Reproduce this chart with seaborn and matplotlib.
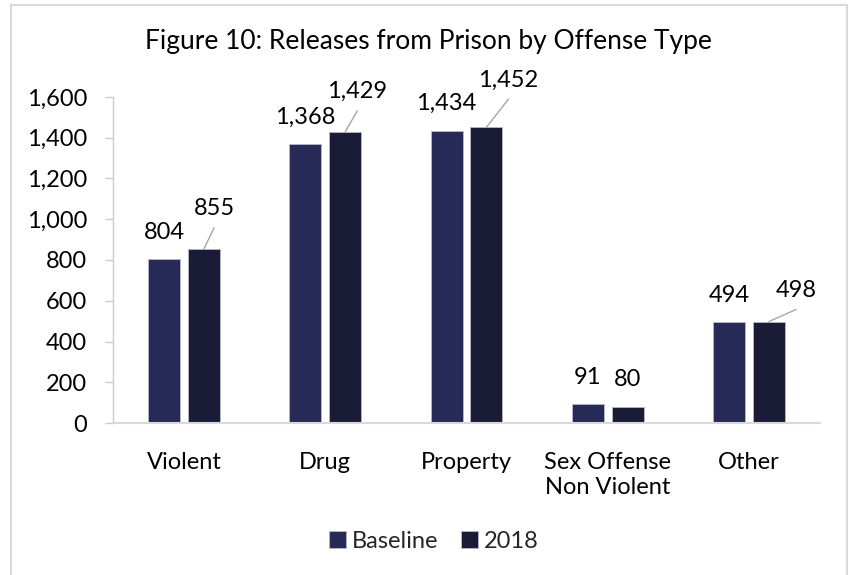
import matplotlib
matplotlib.use("Agg")
import matplotlib.pyplot as plt
import seaborn as sns
import pandas as pd
from matplotlib.patches import Rectangle

categories = ["Violent", "Drug", "Property", "Sex Offense\nNon Violent", "Other"]
baseline = [804, 1368, 1434, 91, 494]
y2018 = [855, 1429, 1452, 80, 498]
series = ["Baseline", "2018"]
yticks = [0, 200, 400, 600, 800, 1000, 1200, 1400, 1600]

df = pd.DataFrame({
    "category": categories * 2,
    "value": baseline + y2018,
    "series": [series[0]] * len(categories) + [series[1]] * len(categories),
})

sns.set_theme(style="white")
plt.rcParams["font.family"] = ["Lato", "DejaVu Sans"]

W, H = 849, 575
fig = plt.figure(figsize=(W / 100, H / 100), dpi=100)
ax = fig.add_axes([113.4 / W, 1 - 423 / H, (819.6 - 113.4) / W, (423 - 97) / H])

palette = {"Baseline": "#272A56", "2018": "#1A1B36"}
sns.barplot(data=df, x="category", y="value", hue="series", hue_order=series,
            order=categories, palette=palette, saturation=1, width=0.566, gap=0.2,
            edgecolor="#B8B8C8", linewidth=0.6, ax=ax, legend=True)

ax.set_ylim(0, 1600)
ax.set_xlim(-0.5, len(categories) - 0.5)
ax.set_yticks(yticks)
ax.set_yticklabels([f"{v:,}" for v in yticks])
ax.set_xlabel("")
ax.set_ylabel("")
for s in ["top", "right"]:
    ax.spines[s].set_visible(False)
ax.spines["left"].set_color("#CDCAD6")
ax.spines["left"].set_linewidth(1.0)
ax.spines["bottom"].set_color("#D9D9D9")
ax.spines["bottom"].set_linewidth(1.5)
ax.tick_params(axis="y", direction="out", length=5.8, width=1.0, color="#CDCAD6",
               pad=13, labelsize=17, labelcolor="#000000", left=True)
ax.tick_params(axis="x", length=0, pad=21, labelsize=17, labelcolor="#000000")

# data labels (offsets in pixels: label centre relative to bar top centre)
off_base = [(0, 27)] * 5
off_2018 = [(10, 40), (12, 40), (22, 47), (0, 27), (27, 31)]
leader = [True, True, True, False, True]

conts = ax.containers
for cont, vals, offs, is2018 in [(conts[0], baseline, off_base, False),
                                 (conts[1], y2018, off_2018, True)]:
    for i, (bar, v) in enumerate(zip(cont, vals)):
        xc = bar.get_x() + bar.get_width() / 2
        top = bar.get_height()
        dx, dy = offs[i]
        ax.annotate(f"{v:,}", xy=(xc, top), xytext=(dx, dy), textcoords="offset pixels",
                    ha="center", va="center", fontsize=17, color="#000000",
                    annotation_clip=False)
        if is2018 and leader[i]:
            ax.annotate("", xy=(xc, top), xytext=(dx, dy - 19),
                        textcoords="offset pixels",
                        arrowprops=dict(arrowstyle="-", color="#A6A6A6", lw=1.0,
                                        shrinkA=0, shrinkB=0),
                        annotation_clip=False)

# legend
handles, labels = ax.get_legend_handles_labels()
ax.legend_.remove()
fig.legend(handles, labels, loc="center", bbox_to_anchor=(434 / W, 1 - 541 / H),
           ncol=2, frameon=False, fontsize=17, handlelength=0.7, handleheight=0.7,
           handletextpad=0.28, columnspacing=0.95)

fig.suptitle("Figure 10: Releases from Prison by Offense Type", x=428.5 / W, y=1 - 42 / H,
             va="center", ha="center", fontsize=19, color="#000000")

# chart-area border
fig.patches.append(Rectangle((11 / W, -0.05), (847 - 11) / W, (1 - 5 / H) + 0.05,
                             transform=fig.transFigure, fill=False,
                             edgecolor="#D9D9D9", linewidth=1.5))

fig.savefig("out.png", dpi=100)
